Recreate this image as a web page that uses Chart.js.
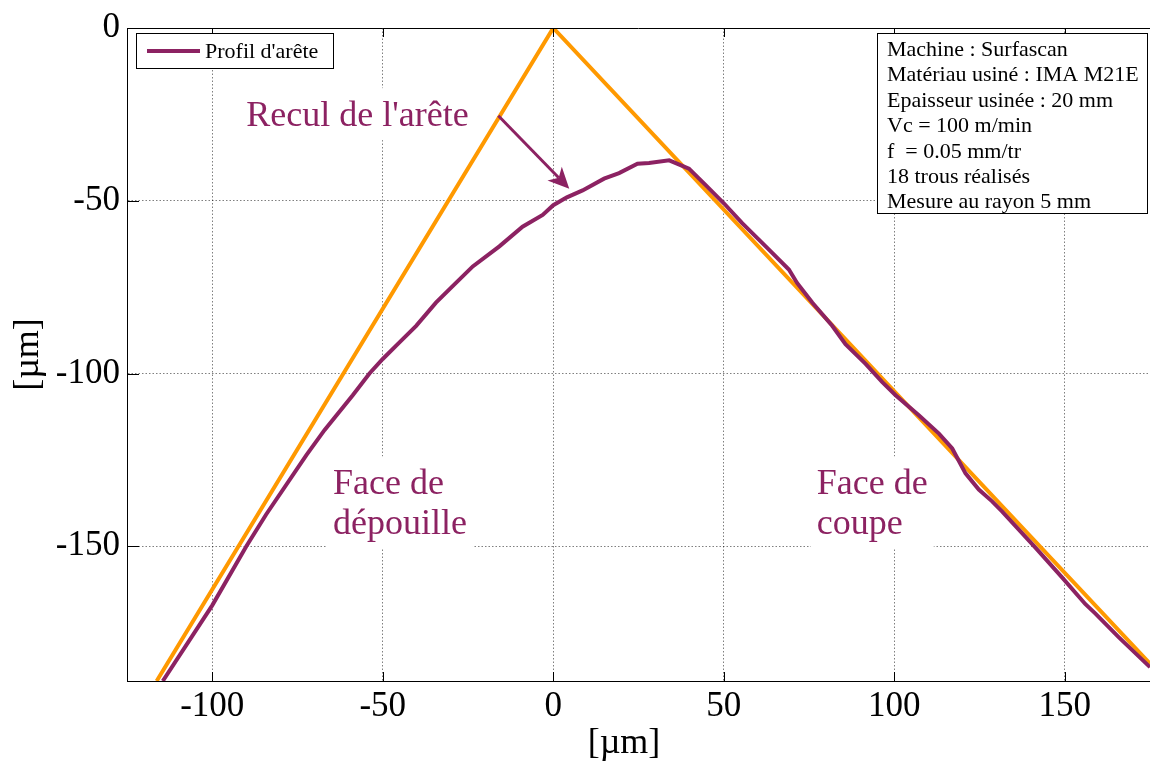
<!DOCTYPE html>
<html>
<head>
<meta charset="utf-8">
<script src="https://cdn.jsdelivr.net/npm/chart.js@4.4.0/dist/chart.umd.min.js"></script>
<style>
  html, body { margin: 0; padding: 0; background: #fff; }
</style>
</head>
<body>
<canvas id="chart" width="1150" height="765"></canvas>
<script>
// measured edge profile (µm)
const profileX = [-114.5, -100, -90, -84.2, -72.4, -67.1, -58.8, -53.9, -50, -45.1, -40.2, -34.4, -29.5, -23.6,
  -15.8, -9, -3.1, 0, 4, 8.6, 14.9, 19.3, 24.7, 28.1, 34, 39.8, 44.7, 50.1, 55.4, 62.3, 69.1, 71.5, 76, 81.8,
  85.7, 91.6, 96.5, 100.4, 107.2, 113.1, 117, 120.9, 124.8, 128.7, 131.6, 141.4, 149.2, 156, 159, 165.8, 175];
const profileY = [-189, -167.1, -150, -140.8, -123.6, -116.4, -106.3, -100, -95.8, -91, -86.2, -79.5, -74.7, -69,
  -63.2, -57.5, -54.1, -51.3, -49, -47, -43.6, -42, -39.3, -39.1, -38.3, -40.7, -45.5, -50.8, -56.5, -63.2, -69.9, -73.8, -79.5, -86.2,
  -91.5, -97.2, -102.5, -106.3, -112.1, -117.4, -121.7, -128.9, -133.6, -137, -139.9, -150.4, -159, -166.7, -169.5, -176.3, -185];

// theoretical sharp edge
const edgeX = [-116.3, 0, 175];
const edgeY = [-189, 0, -184];

const xTicks = [-100, -50, 0, 50, 100, 150];
const yTicks = [-150, -100, -50, 0];

const infoLines = [
  'Machine : Surfascan',
  'Matériau usiné : IMA M21E',
  'Epaisseur usinée : 20 mm',
  'Vc = 100 m/min',
  'f  = 0.05 mm/tr',
  '18 trous réalisés',
  'Mesure au rayon 5 mm'
];

const serif = "'Liberation Serif', 'Times New Roman', serif";
const purple = '#8C2262';
const orange = '#FF9900';

// annotation texts, anchored in data units
const notes = [
  { lines: ["Recul de l'arête"], x: -90, y: -28.4 },
  { lines: ['Face de', 'dépouille'], x: -64.6, y: -135 },
  { lines: ['Face de', 'coupe'], x: 77.3, y: -135 }
];
const arrowFrom = [-16.1, -25.4];
const arrowTo = [4.7, -46.5];

function noteBox(ctx, n, x, y) {
  ctx.font = '36px ' + serif;
  let w = 0;
  n.lines.forEach(t => { w = Math.max(w, ctx.measureText(t).width); });
  const px = x.getPixelForValue(n.x), py = y.getPixelForValue(n.y);
  return { px, py, w, top: py - 38, bottom: py + (n.lines.length - 1) * 40 + 14 };
}

const decorations = {
  id: 'decorations',
  beforeDatasetsDraw(chart) {
    const { ctx, scales: { x, y } } = chart;
    ctx.save();
    ctx.fillStyle = '#fff';
    notes.forEach(n => {
      const b = noteBox(ctx, n, x, y);
      ctx.fillRect(b.px - 6, b.top, b.w + 12, b.bottom - b.top);
    });
    ctx.restore();
  },
  afterDatasetsDraw(chart) {
    const { ctx, chartArea: a, scales: { x, y } } = chart;
    ctx.save();

    // box + inward ticks
    ctx.strokeStyle = '#000';
    ctx.lineWidth = 1;
    ctx.beginPath();
    ctx.moveTo(a.left, a.top + 0.5);
    ctx.lineTo(a.right, a.top + 0.5);
    xTicks.forEach(v => {
      const p = Math.round(x.getPixelForValue(v)) + 0.5;
      ctx.moveTo(p, a.bottom); ctx.lineTo(p, a.bottom - 9);
      ctx.moveTo(p, a.top); ctx.lineTo(p, a.top + 9);
    });
    yTicks.forEach(v => {
      const p = Math.round(y.getPixelForValue(v)) + 0.5;
      ctx.moveTo(a.left, p); ctx.lineTo(a.left + 12, p);
    });
    ctx.stroke();

    // annotation texts
    ctx.fillStyle = purple;
    ctx.textAlign = 'left';
    ctx.textBaseline = 'alphabetic';
    notes.forEach(n => {
      const b = noteBox(ctx, n, x, y);
      n.lines.forEach((t, i) => ctx.fillText(t, b.px, b.py + i * 40));
    });

    // arrow
    const x0 = x.getPixelForValue(arrowFrom[0]), y0 = y.getPixelForValue(arrowFrom[1]);
    const x1 = x.getPixelForValue(arrowTo[0]), y1 = y.getPixelForValue(arrowTo[1]);
    const ang = Math.atan2(y1 - y0, x1 - x0);
    const hl = 21, hw = 10;
    const bx = x1 - hl * Math.cos(ang), by = y1 - hl * Math.sin(ang);
    const nx = x1 - hl * 0.72 * Math.cos(ang), ny = y1 - hl * 0.72 * Math.sin(ang);
    ctx.strokeStyle = purple;
    ctx.lineWidth = 3;
    ctx.beginPath();
    ctx.moveTo(x0, y0);
    ctx.lineTo(nx, ny);
    ctx.stroke();
    ctx.beginPath();
    ctx.moveTo(x1, y1);
    ctx.lineTo(bx - hw * Math.sin(ang), by + hw * Math.cos(ang));
    ctx.lineTo(nx, ny);
    ctx.lineTo(bx + hw * Math.sin(ang), by - hw * Math.cos(ang));
    ctx.closePath();
    ctx.fillStyle = purple;
    ctx.fill();

    // legend
    ctx.fillStyle = '#fff';
    ctx.fillRect(136, 33, 197, 35);
    ctx.strokeStyle = '#000';
    ctx.lineWidth = 1;
    ctx.strokeRect(136.5, 33.5, 197, 35);
    ctx.strokeStyle = purple;
    ctx.lineWidth = 4;
    ctx.beginPath();
    ctx.moveTo(147, 51);
    ctx.lineTo(200, 51);
    ctx.stroke();
    ctx.fillStyle = '#000';
    ctx.font = '22px ' + serif;
    ctx.fillText("Profil d'arête", 205, 58);

    // info box
    ctx.fillStyle = '#fff';
    ctx.fillRect(877, 33, 270, 180);
    ctx.strokeStyle = '#000';
    ctx.lineWidth = 1;
    ctx.strokeRect(877.5, 33.5, 270, 180);
    ctx.fillStyle = '#000';
    ctx.font = '22px ' + serif;
    infoLines.forEach((t, i) => ctx.fillText(t, 887, 56 + i * 25.4));

    // axis titles
    ctx.font = '36px ' + serif;
    ctx.textAlign = 'center';
    ctx.textBaseline = 'middle';
    ctx.fillText('[µm]', 624, 744);
    ctx.translate(29, a.top + (a.bottom - a.top) / 2);
    ctx.rotate(-Math.PI / 2);
    ctx.fillText('[µm]', 0, 0);

    ctx.restore();
  }
};

new Chart(document.getElementById('chart'), {
  type: 'scatter',
  data: {
    datasets: [
      {
        label: "Profil d'arête",
        data: profileX.map((v, i) => ({ x: v, y: profileY[i] })),
        showLine: true,
        borderColor: purple,
        borderWidth: 4,
        pointRadius: 0,
        tension: 0
      },
      {
        label: 'Arête théorique',
        data: edgeX.map((v, i) => ({ x: v, y: edgeY[i] })),
        showLine: true,
        borderColor: orange,
        borderWidth: 4,
        pointRadius: 0,
        tension: 0
      }
    ]
  },
  options: {
    responsive: false,
    animation: false,
    layout: { padding: { top: 23, right: 0, bottom: 0, left: 0 } },
    plugins: { legend: { display: false }, tooltip: { enabled: false } },
    scales: {
      x: {
        type: 'linear',
        min: -125,
        max: 175,
        afterBuildTicks: s => { s.ticks = xTicks.map(v => ({ value: v })); },
        afterFit: s => { s.height = 84; },
        ticks: { font: { family: serif, size: 35 }, color: '#000', padding: 5, maxRotation: 0, autoSkip: false },
        grid: { color: 'rgba(0,0,0,0.5)', lineWidth: 1, drawTicks: false },
        border: { color: '#000', width: 1, dash: [1.5, 2] }
      },
      y: {
        type: 'linear',
        min: -189,
        max: 0,
        afterBuildTicks: s => { s.ticks = yTicks.map(v => ({ value: v })); },
        afterFit: s => { s.width = 127; },
        ticks: { font: { family: serif, size: 35 }, color: '#000', padding: 7, autoSkip: false },
        grid: { color: 'rgba(0,0,0,0.5)', lineWidth: 1, drawTicks: false },
        border: { color: '#000', width: 1, dash: [1.5, 2] }
      }
    }
  },
  plugins: [decorations]
});
</script>
</body>
</html>
